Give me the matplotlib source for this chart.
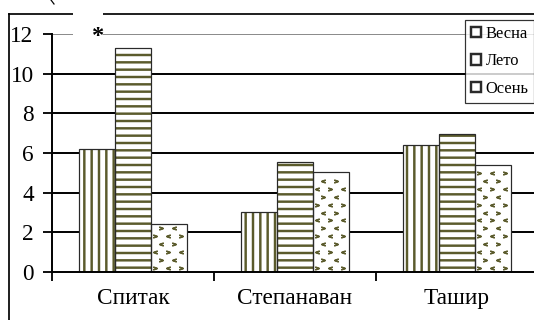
import matplotlib
matplotlib.use("Agg")
import matplotlib.pyplot as plt
import numpy as np
from matplotlib.lines import Line2D
from matplotlib.patches import Rectangle

towns = ["Спитак", "Степанаван", "Ташир"]
seasons = ["Весна", "Лето", "Осень"]
spring = [6.2, 3.05, 6.4]
summer = [11.3, 5.55, 6.95]
autumn = [2.4, 5.05, 5.4]

OLIVE = "#5b5b2c"
EDGE = "#2a2a2a"
DPI = 88
W, H = 534, 320

plt.rcParams["font.family"] = ["Liberation Serif", "DejaVu Serif"]
plt.rcParams["hatch.linewidth"] = 2.0

fig = plt.figure(figsize=(W / DPI, H / DPI), dpi=DPI)
ax = fig.add_axes([52 / W, 48 / H, 486 / W, 238 / H])

x = np.arange(len(towns))
bw = 0.222


def hatched_bars(xs, vals, hatch, label):
    # olive hatch first, dark outline on top
    ax.bar(xs, vals, bw, color="white", edgecolor=OLIVE, linewidth=0, hatch=hatch, zorder=3)
    bars = ax.bar(xs, vals, bw, fill=False, edgecolor=EDGE, linewidth=1.0, zorder=5)
    proxy = Rectangle((0, 0), 1, 1, facecolor="white", edgecolor=EDGE, linewidth=2.0, label=label)
    return bars, proxy


_, p1 = hatched_bars(x - bw, spring, "||", seasons[0])
_, p2 = hatched_bars(x, summer, "--", seasons[1])
bars_au, p3 = hatched_bars(x + bw, autumn, None, seasons[2])

# chevron texture for the autumn bars
dx, dy = 0.08, 0.40
for rect in bars_au:
    x0, w, h = rect.get_x(), rect.get_width(), rect.get_height()
    rows = np.arange(dy * 0.5, h - dy * 0.2, dy)
    for j, yy in enumerate(rows):
        off = dx * 0.3 if j % 2 == 0 else dx * 0.8
        cols = np.arange(x0 + off, x0 + w, dx)
        for k, xx in enumerate(cols):
            m = "$>$" if (j // 2 + k) % 2 == 0 else "$<$"
            ln, = ax.plot(xx, yy, marker=m, markersize=3.0, color=OLIVE, linestyle="none", zorder=4)
            ln.set_clip_path(rect)

ax.set_xlim(-0.5, 2.5)
ax.set_ylim(0, 12)
ax.set_yticks(range(0, 13, 2))
ax.set_xticks([-0.5, 0.5, 1.5, 2.5])
ax.set_xticklabels([])
ax.set_xticks(x, minor=True)
ax.set_xticklabels(towns, minor=True, fontsize=19)
ax.tick_params(axis="x", which="minor", length=0, pad=13)
ax.tick_params(axis="x", which="major", direction="out", length=7, width=1.5, color="black")
ax.tick_params(axis="y", direction="out", length=7, width=1.5, labelsize=19, pad=8)

for v in range(2, 12, 2):
    ax.axhline(v, color="black", linewidth=1.6, zorder=1)
ax.axhline(12, color="#8a8a8a", linewidth=1.6, zorder=1)

for s in ["top", "right"]:
    ax.spines[s].set_visible(False)
ax.spines["left"].set_linewidth(1.6)
ax.spines["bottom"].set_linewidth(1.6)
ax.spines["left"].set_zorder(6)
ax.spines["bottom"].set_zorder(6)

# outer frame
fig.add_artist(Line2D([9 / W, 9 / W], [0, 1 - 14 / H], color="black", linewidth=1.4))
fig.add_artist(Line2D([9 / W, 1.0], [1 - 14 / H, 1 - 14 / H], color="black", linewidth=1.4))
fig.add_artist(Line2D([51 / W, 54 / W], [1.0, 1 - 4 / H], color="black", linewidth=1.0))
fig.add_artist(Rectangle((73 / W, 1 - 38 / H), 30 / W, 30 / H, transform=fig.transFigure,
                         facecolor="white", edgecolor="none", zorder=10))
fig.text(98 / W, 1 - 37 / H, "*", fontsize=20, fontweight="bold", ha="center", va="center", zorder=11)

leg = fig.legend(handles=[p1, p2, p3], loc="upper left", bbox_to_anchor=(465 / W, 1 - 20 / H),
                 fontsize=13.5, handlelength=0.6, handleheight=0.6, handletextpad=0.3,
                 labelspacing=0.7, borderpad=0.35, frameon=True, fancybox=False, borderaxespad=0)
leg.get_frame().set_edgecolor("black")
leg.get_frame().set_linewidth(1.0)

fig.savefig("out.png", dpi=DPI, facecolor="white")
